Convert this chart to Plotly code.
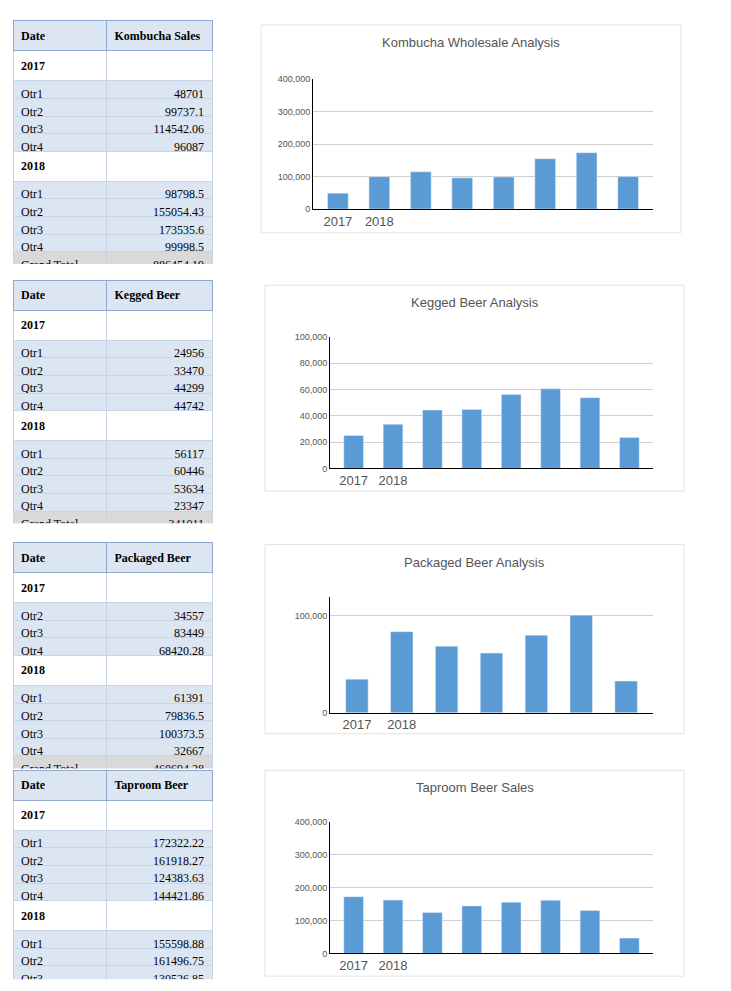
import plotly.graph_objects as go

quarters = ["Qtr1", "Qtr2", "Qtr3", "Qtr4"]

kombucha_2017 = [48701, 99737.1, 114542.06, 96087]
kombucha_2018 = [98798.5, 155054.43, 173535.6, 99998.5]
kombucha_total = "886454.19"

kegged_2017 = [24956, 33470, 44299, 44742]
kegged_2018 = [56117, 60446, 53634, 23347]
kegged_total = "341011"

packaged_q_2017 = ["Qtr2", "Qtr3", "Qtr4"]
packaged_2017 = [34557, 83449, 68420.28]
packaged_2018 = [61391, 79836.5, 100373.5, 32667]
packaged_total = "460694.28"

taproom_2017 = [172322.22, 161918.27, 124383.63, 144421.86]
taproom_2018 = [155598.88, 161496.75, 130526.85, 46470.93]
taproom_total = "1097139.39"

W, H = 731, 991
BAR = "#5B9BD5"
CELL = "#DCE6F2"

sections = [
    dict(name="Kombucha Sales", title="Kombucha Wholesale Analysis", q17=quarters,
         v17=kombucha_2017, v18=kombucha_2018, total=kombucha_total,
         ttop=8, box=(253, 12, 673, 222), plot=(305, 67, 645, 198),
         yr=[0, 400000], tv=[0, 100000, 200000, 300000, 400000]),
    dict(name="Kegged Beer", title="Kegged Beer Analysis", q17=quarters,
         v17=kegged_2017, v18=kegged_2018, total=kegged_total,
         ttop=270, box=(257, 275, 676, 483), plot=(322, 327, 645, 460),
         yr=[0, 100000], tv=[0, 20000, 40000, 60000, 80000, 100000]),
    dict(name="Packaged Beer", title="Packaged Beer Analysis", q17=packaged_q_2017,
         v17=packaged_2017, v18=packaged_2018, total=packaged_total,
         ttop=535, box=(257, 537, 676, 728), plot=(322, 590, 645, 707),
         yr=[0, 119000], tv=[0, 100000]),
    dict(name="Taproom Beer", title="Taproom Beer Sales", q17=quarters,
         v17=taproom_2017, v18=taproom_2018, total=taproom_total,
         ttop=765, box=(257, 765, 676, 973), plot=(322, 817, 645, 950),
         yr=[0, 400000], tv=[0, 100000, 200000, 300000, 400000]),
]

fig = go.Figure()
shapes, annotations = [], []
ROW = 17.6

for i, s in enumerate(sections, start=1):
    # pivot table, with a couple of empty sheet rows below except the last one
    extra = 2 if i < 4 else 0
    col1 = ["<b>2017</b>"] + s["q17"] + ["<b>2018</b>"] + quarters + ["Grand Total"] + [""] * extra
    col2 = [""] + [str(v) for v in s["v17"]] + [""] + [str(v) for v in s["v18"]] + [s["total"]] + [""] * extra
    fills = ["white"] + [CELL] * len(s["q17"]) + ["white"] + [CELL] * 4 + ["#D9D9D9"] + ["white"] * extra
    nrows = len(col1) + 1
    top = s["ttop"]
    bottom = min(top + nrows * ROW, H - 2)
    fig.add_trace(go.Table(
        domain=dict(x=[5 / W, 204 / W], y=[1 - bottom / H, 1 - top / H]),
        columnwidth=[93, 105],
        header=dict(values=["<b>Date</b>", "<b>" + s["name"] + "</b>"],
                    fill_color=CELL, line_color="#8EA9D0", align="left", height=ROW,
                    font=dict(family="Liberation Serif", size=12, color="black")),
        cells=dict(values=[col1, col2], fill_color=[fills, fills], line_color="#C7D3E6",
                   align=["left", "right"], height=ROW,
                   font=dict(family="Liberation Serif", size=12, color="black")),
    ))

    # chart
    values = s["v17"] + s["v18"]
    bx0, by0, bx1, by1 = s["box"]
    px0, py0, px1, py1 = s["plot"]
    xa, ya = ("x%d" % i, "y%d" % i)
    fig.add_trace(go.Bar(x=list(range(len(values))), y=values, marker_color=BAR,
                         width=0.5, xaxis=xa, yaxis=ya, showlegend=False))
    suf = "" if i == 1 else str(i)
    fig.layout["xaxis" + suf] = dict(
        domain=[px0 / W, px1 / W], anchor=ya, range=[-0.6, len(values) - 0.4],
        tickvals=[0, 1], ticktext=["2017", "2018"], showline=True, linecolor="black",
        showgrid=False, tickfont=dict(family="Liberation Sans", size=13, color="#555"))
    fig.layout["yaxis" + suf] = dict(
        domain=[1 - py1 / H, 1 - py0 / H], anchor=xa, range=s["yr"], tickvals=s["tv"],
        tickformat=",", showline=True, linecolor="black", gridcolor="#D0D0D0",
        zeroline=False, tickfont=dict(family="Liberation Sans", size=9, color="#555"))
    shapes.append(dict(type="rect", xref="paper", yref="paper",
                       x0=bx0 / W, x1=bx1 / W, y0=1 - by1 / H, y1=1 - by0 / H,
                       line=dict(color="#E3E3E3", width=1)))
    annotations.append(dict(text=s["title"], xref="paper", yref="paper",
                            x=(bx0 + bx1) / 2 / W, y=1 - (by0 + 8) / H, yanchor="top",
                            showarrow=False,
                            font=dict(family="Liberation Sans", size=13, color="#555")))

fig.update_layout(width=W, height=H, margin=dict(l=0, r=0, t=0, b=0),
                  paper_bgcolor="white", plot_bgcolor="white",
                  shapes=shapes, annotations=annotations, bargap=0.5)
fig.write_html("out.html")
